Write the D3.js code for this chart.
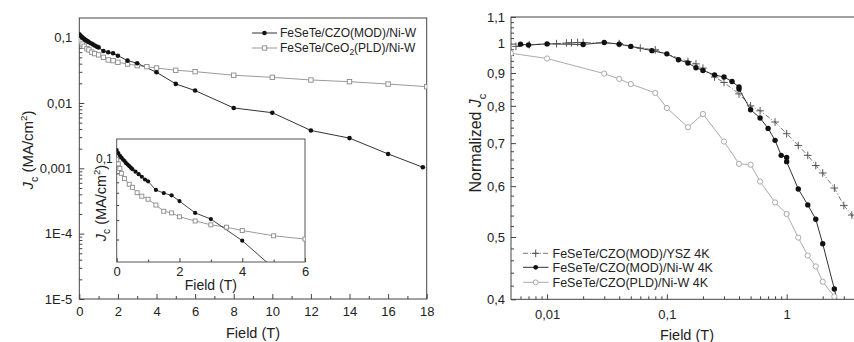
<!DOCTYPE html>
<html>
<head>
<meta charset="utf-8">
<script src="https://cdn.jsdelivr.net/npm/d3@7"></script>
<style>
  body { margin: 0; background: #fff; }
  svg { font-family: "Liberation Sans", Arial, sans-serif; }
  .axis path { display: none; }
  .axis line { stroke: #444; }
  .axis text { fill: #222; font-size: 13px; }
</style>
</head>
<body>
<svg id="chart" width="854" height="342"></svg>
<script>
// ---------- data: left panel (Jc vs field, log) ----------
var modField = [0, 0.05, 0.1, 0.15, 0.2, 0.25, 0.3, 0.35, 0.4, 0.45, 0.5, 0.6, 0.7, 0.8, 0.9, 1.0,
                1.25, 1.5, 1.75, 2, 2.5, 3, 4, 5, 6, 8, 10, 12, 14, 16, 17.8];
var modJc = [0.113, 0.108, 0.104, 0.101, 0.098, 0.096, 0.093, 0.091, 0.089, 0.087, 0.085, 0.082, 0.079, 0.076, 0.073, 0.071,
             0.0625, 0.0597, 0.0577, 0.053, 0.0445, 0.0406, 0.0295, 0.0196, 0.0155, 0.0084, 0.0071, 0.0038, 0.0029, 0.00166, 0.00104];

var pldField = [0, 0.05, 0.1, 0.15, 0.25, 0.4, 0.5, 0.65, 0.8, 1.0, 1.25, 1.5, 1.75, 2, 2.5, 3, 3.5, 4,
                5, 6, 8, 10, 12, 14, 16, 18];
var pldJc = [0.098, 0.092, 0.086, 0.080, 0.074, 0.068, 0.065, 0.060, 0.057, 0.0545, 0.050, 0.0456, 0.0445, 0.042, 0.0395, 0.0373, 0.036, 0.0343,
             0.0317, 0.0302, 0.0266, 0.0247, 0.0225, 0.0212, 0.0195, 0.0178];

var leftXTicks = [0, 2, 4, 6, 8, 10, 12, 14, 16, 18];
var leftYTicks = [1e-5, 1e-4, 1e-3, 1e-2, 1e-1];
var leftYLabels = ["1E-5", "1E-4", "0,001", "0,01", "0,1"];
var insetXTicks = [0, 2, 4, 6];

// ---------- data: right panel (normalized Jc) ----------
var yszField = [0.0055, 0.0071, 0.012, 0.0145, 0.016, 0.018, 0.02, 0.04, 0.06, 0.08, 0.15, 0.175, 0.2, 0.25, 0.3,
                0.4, 0.5, 0.6, 0.8, 1.0, 1.25, 1.5, 1.75, 2.0, 2.5, 3.0, 3.5, 4.0];
var yszJc = [0.99, 0.996, 1.0, 1.002, 1.003, 1.004, 1.004, 1.0, 0.984, 0.978, 0.938, 0.93, 0.916, 0.887, 0.87,
             0.835, 0.8, 0.786, 0.755, 0.724, 0.694, 0.67, 0.646, 0.629, 0.596, 0.56, 0.541, 0.52];

var niwField = [0.006, 0.007, 0.01, 0.02, 0.03, 0.04, 0.05, 0.075, 0.1, 0.125, 0.15, 0.175, 0.2, 0.25, 0.3, 0.35,
                0.4, 0.4, 0.5, 0.6, 0.7, 0.8, 0.9, 1.0, 1.0, 1.25, 1.5, 1.75, 2.0, 2.5, 3.0];
var niwJc = [0.998, 0.995, 0.999, 0.997, 1.004, 0.998, 0.99, 0.975, 0.964, 0.944, 0.933, 0.917, 0.908, 0.894, 0.887, 0.873,
             0.856, 0.85, 0.789, 0.766, 0.738, 0.707, 0.67, 0.665, 0.655, 0.594, 0.561, 0.533, 0.488, 0.415, 0.36];

var plField = [0.005, 0.01, 0.03, 0.04, 0.05, 0.08, 0.1, 0.15, 0.2, 0.3, 0.4, 0.5, 0.6, 0.8, 1.0,
               1.25, 1.5, 1.75, 2.0, 2.5];
var plJc = [0.966, 0.948, 0.898, 0.881, 0.865, 0.838, 0.794, 0.741, 0.777, 0.704, 0.65, 0.648, 0.61, 0.566, 0.543,
            0.499, 0.468, 0.45, 0.426, 0.404];

var rightXTicks = [0.01, 0.1, 1];
var rightXLabels = ["0,01", "0,1", "1"];
var rightYTicks = [0.4, 0.5, 0.6, 0.7, 0.8, 0.9, 1, 1.1];
var rightYLabels = ["0,4", "0,5", "0,6", "0,7", "0,8", "0,9", "1", "1,1"];

var svg = d3.select("#chart");

function zip(xs, ys) {
    return xs.map((x, i) => ({x: x, y: ys[i]}));
}

// minor ticks of a log axis (2..9 in every decade)
function logMinor(lo, hi) {
    var out = [];
    for (var e = Math.floor(Math.log10(lo)); e <= Math.ceil(Math.log10(hi)); e++) {
        for (var k = 2; k <= 9; k++) {
            var v = k * Math.pow(10, e);
            if (v > lo && v < hi) out.push(v);
        }
    }
    return out;
}

function clip(id, x0, y0, x1, y1) {
    svg.append("clipPath").attr("id", id)
        .append("rect").attr("x", x0).attr("y", y0)
        .attr("width", x1 - x0).attr("height", y1 - y0);
}

// J_c (MA/cm2) style rotated label
function jcTitle(x, y, size, withUnit, prefix) {
    var t = svg.append("text")
        .attr("transform", `translate(${x}, ${y}) rotate(-90)`)
        .style("text-anchor", "middle")
        .style("font-size", size + "px")
        .attr("fill", "#222");
    if (prefix) t.append("tspan").text(prefix);
    t.append("tspan").style("font-style", "italic").text("J");
    t.append("tspan").attr("dy", size * 0.3).style("font-size", (size * 0.7) + "px").text("c");
    if (withUnit) {
        t.append("tspan").attr("dy", -size * 0.3).text(" (MA/cm");
        t.append("tspan").attr("dy", -size * 0.4).style("font-size", (size * 0.65) + "px").text("2");
        t.append("tspan").attr("dy", size * 0.4).text(")");
    }
}

// ================= LEFT PANEL =================
var L = {left: 79.3, right: 426.7, top: 18, bottom: 299};
var xL = d3.scaleLinear().domain([0, 18]).range([L.left, L.right]);
var yL = d3.scaleLog().domain([1e-5, 0.2]).range([L.bottom, L.top]);

clip("clipL", L.left, L.top, L.right, L.bottom);

svg.append("g").attr("class", "axis")
    .attr("transform", `translate(0, ${L.bottom})`)
    .call(d3.axisBottom(xL).tickValues(leftXTicks).tickSize(-5).tickSizeOuter(0).tickPadding(8)
        .tickFormat(d3.format("d")));
svg.append("g").attr("class", "axis")
    .attr("transform", `translate(0, ${L.bottom})`)
    .call(d3.axisBottom(xL).tickValues(d3.range(1, 18, 2)).tickSize(-3).tickFormat(""));
svg.append("g").attr("class", "axis")
    .attr("transform", `translate(${L.left}, 0)`)
    .call(d3.axisLeft(yL).tickValues(leftYTicks).tickSize(-5).tickSizeOuter(0).tickPadding(7)
        .tickFormat((d, i) => leftYLabels[i]));
svg.append("g").attr("class", "axis")
    .attr("transform", `translate(${L.left}, 0)`)
    .call(d3.axisLeft(yL).tickValues(logMinor(1e-5, 0.2)).tickSize(-3).tickFormat(""));

svg.append("rect")
    .attr("x", L.left).attr("y", L.top)
    .attr("width", L.right - L.left).attr("height", L.bottom - L.top)
    .attr("fill", "none").attr("stroke", "#444");

var lineL = d3.line().x(d => xL(d.x)).y(d => yL(d.y));
var plotL = svg.append("g").attr("clip-path", "url(#clipL)");

plotL.append("path").datum(zip(pldField, pldJc))
    .attr("d", lineL).attr("fill", "none").attr("stroke", "#9a9a9a").attr("stroke-width", 1);
plotL.append("path").datum(zip(modField, modJc))
    .attr("d", lineL).attr("fill", "none").attr("stroke", "#333").attr("stroke-width", 1);
plotL.selectAll("rect.pld").data(zip(pldField, pldJc)).enter()
    .append("rect").attr("class", "pld")
    .attr("x", d => xL(d.x) - 2.2).attr("y", d => yL(d.y) - 2.2)
    .attr("width", 4.4).attr("height", 4.4)
    .attr("fill", "#fff").attr("stroke", "#8a8a8a").attr("stroke-width", 0.9);
plotL.selectAll("circle.mod").data(zip(modField, modJc)).enter()
    .append("circle").attr("class", "mod")
    .attr("cx", d => xL(d.x)).attr("cy", d => yL(d.y)).attr("r", 2.3)
    .attr("fill", "#111");

// left legend
var legL = [
    {y: 33, stroke: "#333", marker: "dot", text: ["FeSeTe/CZO(MOD)/Ni-W"]},
    {y: 48, stroke: "#9a9a9a", marker: "square", text: ["FeSeTe/CeO", "2", "(PLD)/Ni-W"]}
];
legL.forEach(function(item) {
    svg.append("line").attr("x1", 252).attr("x2", 277).attr("y1", item.y).attr("y2", item.y)
        .attr("stroke", item.stroke);
    if (item.marker === "dot")
        svg.append("circle").attr("cx", 264.5).attr("cy", item.y).attr("r", 2.3).attr("fill", "#111");
    else
        svg.append("rect").attr("x", 262.3).attr("y", item.y - 2.2).attr("width", 4.4).attr("height", 4.4)
            .attr("fill", "#fff").attr("stroke", "#8a8a8a").attr("stroke-width", 0.9);
    var t = svg.append("text").attr("x", 280).attr("y", item.y + 4.3)
        .style("font-size", "12px").attr("fill", "#222");
    t.append("tspan").text(item.text[0]);
    if (item.text.length > 1) {
        t.append("tspan").attr("dy", 3).style("font-size", "8.5px").text(item.text[1]);
        t.append("tspan").attr("dy", -3).text(item.text[2]);
    }
});

// left titles
svg.append("text")
    .attr("x", (L.left + L.right) / 2 + 0).attr("y", 337.5)
    .style("text-anchor", "middle").style("font-size", "14.5px").attr("fill", "#222")
    .text("Field (T)");
jcTitle(33, 150, 15, true);

// ---------- inset ----------
var I = {left: 116.7, right: 305, top: 139, bottom: 262};
var xI = d3.scaleLinear().domain([0, 6]).range([I.left, I.right]);
var yI = d3.scaleLog().domain([0.0215, 0.133]).range([I.bottom, I.top]);

svg.append("rect")
    .attr("x", I.left).attr("y", I.top)
    .attr("width", I.right - I.left).attr("height", I.bottom - I.top)
    .attr("fill", "#fff").attr("stroke", "#555");
clip("clipI", I.left, I.top, I.right, I.bottom);

svg.append("g").attr("class", "axis")
    .attr("transform", `translate(0, ${I.bottom})`)
    .call(d3.axisBottom(xI).tickValues(insetXTicks).tickSize(-4).tickSizeOuter(0).tickPadding(5)
        .tickFormat(d3.format("d")));
svg.append("g").attr("class", "axis")
    .attr("transform", `translate(0, ${I.bottom})`)
    .call(d3.axisBottom(xI).tickValues([1, 3, 5]).tickSize(-2.5).tickFormat(""));
svg.append("g").attr("class", "axis")
    .attr("transform", `translate(${I.left}, 0)`)
    .call(d3.axisLeft(yI).tickValues([0.1]).tickSize(-4).tickSizeOuter(0).tickPadding(4)
        .tickFormat(() => "0,1"))
    .selectAll("text").style("font-size", "12px");
svg.append("g").attr("class", "axis")
    .attr("transform", `translate(${I.left}, 0)`)
    .call(d3.axisLeft(yI).tickValues(logMinor(0.0215, 0.133)).tickSize(-2.5).tickFormat(""));

var lineI = d3.line().x(d => xI(d.x)).y(d => yI(d.y));
var plotI = svg.append("g").attr("clip-path", "url(#clipI)");
plotI.append("path").datum(zip(pldField, pldJc))
    .attr("d", lineI).attr("fill", "none").attr("stroke", "#9a9a9a");
plotI.append("path").datum(zip(modField, modJc))
    .attr("d", lineI).attr("fill", "none").attr("stroke", "#444");
plotI.selectAll("rect").data(zip(pldField, pldJc)).enter()
    .append("rect")
    .attr("x", d => xI(d.x) - 2).attr("y", d => yI(d.y) - 2)
    .attr("width", 4).attr("height", 4)
    .attr("fill", "#fff").attr("stroke", "#8a8a8a").attr("stroke-width", 0.9);
plotI.selectAll("circle").data(zip(modField, modJc)).enter()
    .append("circle")
    .attr("cx", d => xI(d.x)).attr("cy", d => yI(d.y)).attr("r", 2.1)
    .attr("fill", "#111");

svg.append("text")
    .attr("x", (I.left + I.right) / 2).attr("y", 290)
    .style("text-anchor", "middle").style("font-size", "14px").attr("fill", "#222")
    .text("Field (T)");
jcTitle(106, 203, 14.5, true);

// ================= RIGHT PANEL =================
var R = {left: 511, right: 870.4, top: 17, bottom: 299.3};
var xR = d3.scaleLog().domain([0.005, 5]).range([R.left, R.right]);
var yR = d3.scaleLog().domain([0.4, 1.1]).range([R.bottom, R.top]);

clip("clipR", R.left, R.top, R.right, R.bottom);

svg.append("g").attr("class", "axis")
    .attr("transform", `translate(0, ${R.bottom})`)
    .call(d3.axisBottom(xR).tickValues(rightXTicks).tickSize(-5).tickSizeOuter(0).tickPadding(10)
        .tickFormat((d, i) => rightXLabels[i]));
svg.append("g").attr("class", "axis")
    .attr("transform", `translate(0, ${R.bottom})`)
    .call(d3.axisBottom(xR).tickValues(logMinor(0.005, 5)).tickSize(-3).tickFormat(""));
svg.append("g").attr("class", "axis")
    .attr("transform", `translate(${R.left}, 0)`)
    .call(d3.axisLeft(yR).tickValues(rightYTicks).tickSize(-5).tickSizeOuter(0).tickPadding(6)
        .tickFormat((d, i) => rightYLabels[i]));
svg.append("g").attr("class", "axis")
    .attr("transform", `translate(${R.left}, 0)`)
    .call(d3.axisLeft(yR).tickValues(d3.range(0.42, 1.1, 0.02).filter(v => Math.abs(v * 10 - Math.round(v * 10)) > 0.01))
        .tickSize(-3).tickFormat(""));

svg.append("rect")
    .attr("x", R.left).attr("y", R.top)
    .attr("width", R.right - R.left).attr("height", R.bottom - R.top)
    .attr("fill", "none").attr("stroke", "#444");

var lineR = d3.line().x(d => xR(d.x)).y(d => yR(d.y));
var plotR = svg.append("g").attr("clip-path", "url(#clipR)");

plotR.append("path").datum(zip(plField, plJc))
    .attr("d", lineR).attr("fill", "none").attr("stroke", "#aaa");
plotR.append("path").datum(zip(yszField, yszJc))
    .attr("d", lineR).attr("fill", "none").attr("stroke", "#777").attr("stroke-dasharray", "5,2,1,2");
plotR.append("path").datum(zip(niwField, niwJc))
    .attr("d", lineR).attr("fill", "none").attr("stroke", "#333");

var crossPath = "M-3.8,0H3.8M0,-3.8V3.8";
plotR.selectAll("path.ysz").data(zip(yszField, yszJc)).enter()
    .append("path").attr("class", "ysz")
    .attr("transform", d => `translate(${xR(d.x)}, ${yR(d.y)})`)
    .attr("d", crossPath).attr("stroke", "#555").attr("stroke-width", 1);
plotR.selectAll("circle.pl").data(zip(plField, plJc)).enter()
    .append("circle").attr("class", "pl")
    .attr("cx", d => xR(d.x)).attr("cy", d => yR(d.y)).attr("r", 2.6)
    .attr("fill", "#fff").attr("stroke", "#aaa");
plotR.selectAll("circle.niw").data(zip(niwField, niwJc)).enter()
    .append("circle").attr("class", "niw")
    .attr("cx", d => xR(d.x)).attr("cy", d => yR(d.y)).attr("r", 2.7)
    .attr("fill", "#111");

// right legend
var legR = [
    {y: 253.3, text: "FeSeTe/CZO(MOD)/YSZ 4K", kind: "ysz"},
    {y: 267.3, text: "FeSeTe/CZO(MOD)/Ni-W 4K", kind: "niw"},
    {y: 282.3, text: "FeSeTe/CZO(PLD)/Ni-W 4K", kind: "pl"}
];
legR.forEach(function(item) {
    var ln = svg.append("line").attr("x1", 523).attr("x2", 548.5).attr("y1", item.y).attr("y2", item.y);
    if (item.kind === "ysz") {
        ln.attr("stroke", "#777").attr("stroke-dasharray", "5,2,1,2");
        svg.append("path").attr("transform", `translate(535.7, ${item.y})`)
            .attr("d", crossPath).attr("stroke", "#555");
    } else if (item.kind === "niw") {
        ln.attr("stroke", "#333");
        svg.append("circle").attr("cx", 535.7).attr("cy", item.y).attr("r", 2.4).attr("fill", "#111");
    } else {
        ln.attr("stroke", "#aaa");
        svg.append("circle").attr("cx", 535.7).attr("cy", item.y).attr("r", 2.4)
            .attr("fill", "#fff").attr("stroke", "#aaa");
    }
    svg.append("text").attr("x", 552.5).attr("y", item.y + 4.3)
        .style("font-size", "12.5px").attr("fill", "#222")
        .text(item.text);
});

svg.append("text")
    .attr("x", 687).attr("y", 340)
    .style("text-anchor", "middle").style("font-size", "14.5px").attr("fill", "#222")
    .text("Field (T)");
jcTitle(481, 143, 16, false, "Normalized ");
</script>
</body>
</html>
